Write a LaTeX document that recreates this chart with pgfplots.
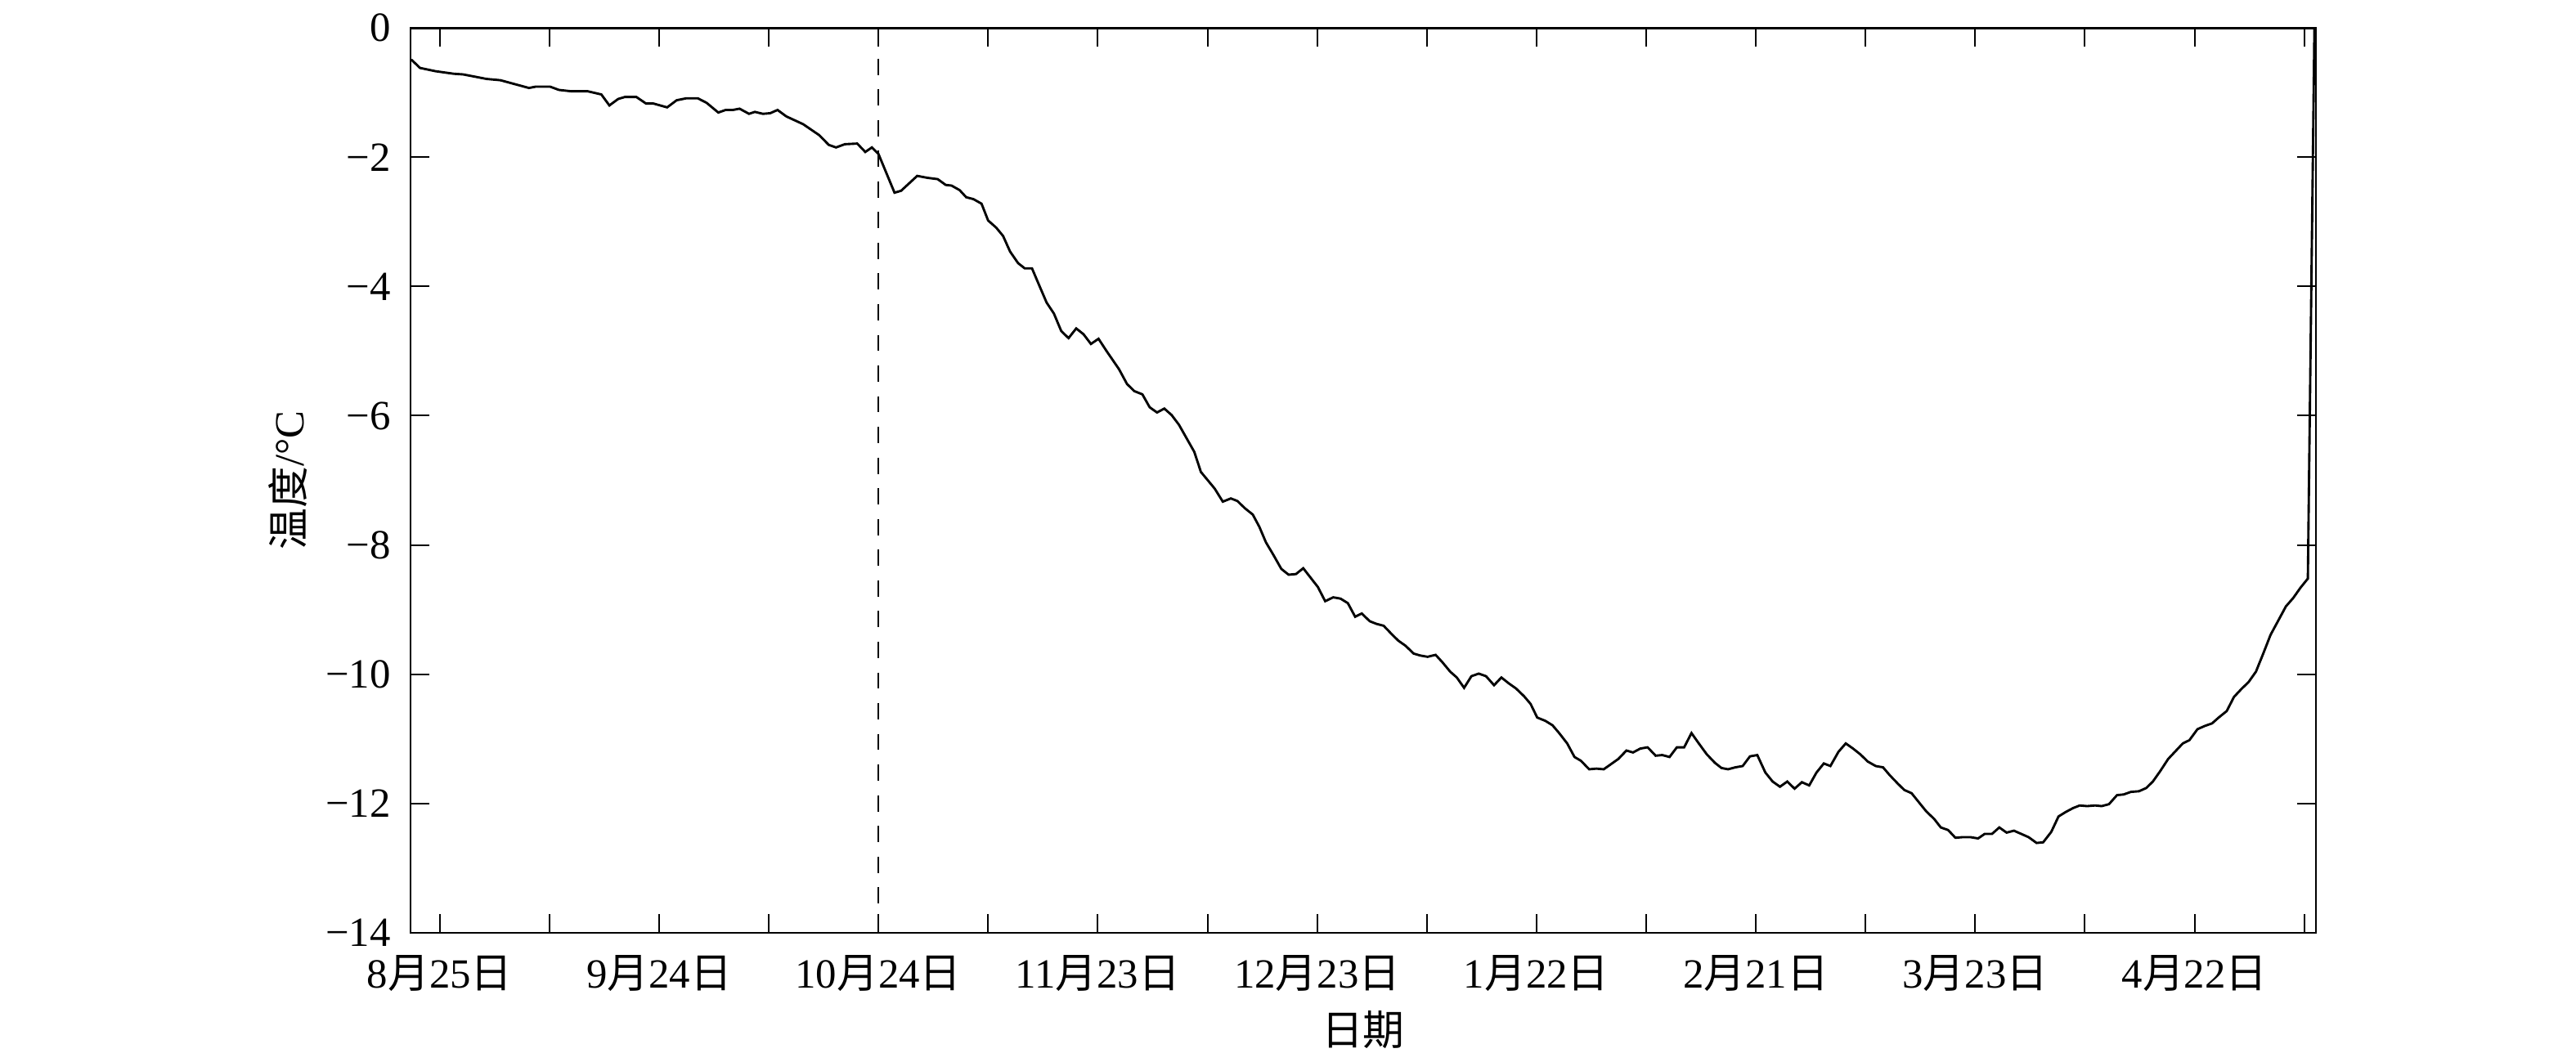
\documentclass[border=0pt]{standalone}
\usepackage{fontspec}
\setmainfont{Liberation Serif}
\newfontfamily\cjk{Noto Sans CJK SC}
\usepackage{pgfplots}
\pgfplotsset{compat=1.18}

\begin{document}
\fontsize{11.5}{13.5}\selectfont
\begin{tikzpicture}
  \begin{axis}[
      name=main,
      scale only axis,
      width=527.5pt, height=250.6pt,
      xmin=-4, xmax=256.6,
      ymin=-14, ymax=0,
      axis line style={line width=0.65pt},
      tick pos=both,
      tick align=inside,
      major tick length=5.2pt,
      minor tick length=5.2pt,
      every tick/.style={black, line width=0.45pt},
      xtick={0,30,...,240},
      minor xtick={15,45,...,255},
      xticklabels={
          8{\cjk 月}25{\cjk 日}, 9{\cjk 月}24{\cjk 日}, 10{\cjk 月}24{\cjk 日},
          11{\cjk 月}23{\cjk 日}, 12{\cjk 月}23{\cjk 日}, 1{\cjk 月}22{\cjk 日},
          2{\cjk 月}21{\cjk 日}, 3{\cjk 月}23{\cjk 日}, 4{\cjk 月}22{\cjk 日}},
      ytick={-14,-12,...,0},
      yticklabels={−14,−12,−10,−8,−6,−4,−2,0},
      tick label style={font=\fontsize{11.5}{13.5}\selectfont},
      xticklabel style={yshift=-2.2pt},
      yticklabel style={xshift=-1.5pt},
      xlabel={\cjk 日期},
      ylabel={{\cjk 温度}/°C},
      label style={font=\fontsize{11.5}{13.5}\selectfont, inner sep=0pt},
      xlabel style={at={(axis description cs:0.5,-0.1075)}, anchor=center},
      ylabel style={at={(axis description cs:-0.0644,0.5)}, anchor=center},
    ]

    % reference line at 10-24
    \addplot[black, line width=0.45pt, dash pattern=on 4.5pt off 4pt]
    coordinates {(60,0)(60,-14)};

    % temperature
    \addplot[black, line width=0.65pt, mark=none]
    coordinates {
        (-3.9,-0.49)(-2.7,-0.62)(-0.6,-0.67)(1.9,-0.71)(3.2,-0.72)(6.4,-0.79)
        (8.3,-0.81)(9.6,-0.85)(12.2,-0.93)(13.1,-0.91)(15.1,-0.91)(16.3,-0.96)
        (17.9,-0.98)(20.2,-0.98)(22.1,-1.03)(23.2,-1.20)(24.4,-1.10)(25.3,-1.07)
        (26.9,-1.07)(28.2,-1.17)(29.2,-1.17)(31.1,-1.23)(32.4,-1.12)(33.7,-1.09)
        (35.3,-1.09)(36.5,-1.16)(38.1,-1.31)(39.1,-1.27)(40.1,-1.27)(41.0,-1.25)
        (42.3,-1.33)(43.1,-1.30)(44.2,-1.33)(45.2,-1.32)(46.2,-1.27)(47.4,-1.37)
        (49.7,-1.49)(51.9,-1.66)(53.2,-1.81)(54.2,-1.85)(55.4,-1.80)(57.1,-1.79)
        (58.2,-1.92)(59.1,-1.85)(60.0,-1.95)(62.2,-2.55)(63.1,-2.52)(65.3,-2.29)
        (66.7,-2.32)(68.1,-2.34)(69.2,-2.43)(70.0,-2.44)(71.1,-2.51)(72.0,-2.62)
        (73.0,-2.65)(74.1,-2.72)(75.0,-2.98)(76.1,-3.09)(77.05,-3.22)(78.0,-3.46)
        (79.1,-3.64)(80.0,-3.72)(81.0,-3.72)(81.9,-3.96)(83.0,-4.25)(84.0,-4.42)
        (85.0,-4.69)(86.0,-4.80)(87.05,-4.65)(88.05,-4.74)(89.06,-4.89)(90.1,-4.81)
        (91.2,-5.00)(92.9,-5.28)(94.0,-5.51)(95.0,-5.62)(96.1,-5.67)(97.1,-5.87)
        (98.1,-5.95)(99.1,-5.89)(100.1,-5.99)(101.1,-6.14)(102.2,-6.36)(103.2,-6.56)
        (104.1,-6.87)(105.2,-7.02)(106.0,-7.13)(107.1,-7.33)(108.2,-7.28)(109.1,-7.32)
        (110.1,-7.43)(111.2,-7.53)(112.1,-7.72)(113.0,-7.96)(114.0,-8.15)(115.1,-8.37)
        (116.1,-8.46)(117.1,-8.45)(118.1,-8.36)(119.2,-8.52)(120.1,-8.65)(121.1,-8.87)
        (122.2,-8.81)(123.2,-8.83)(124.2,-8.90)(125.2,-9.11)(126.1,-9.06)(127.2,-9.18)
        (128.1,-9.22)(129.1,-9.25)(130.2,-9.38)(131.1,-9.48)(132.1,-9.56)(133.2,-9.68)
        (134.1,-9.71)(135.1,-9.73)(136.2,-9.70)(137.1,-9.81)(138.2,-9.96)(139.1,-10.05)
        (140.1,-10.21)(141.1,-10.03)(142.1,-9.99)(143.1,-10.03)(144.2,-10.17)(145.2,-10.05)
        (146.2,-10.14)(147.2,-10.22)(148.3,-10.34)(149.2,-10.46)(150.1,-10.67)(151.2,-10.72)
        (152.2,-10.79)(153.1,-10.91)(154.2,-11.07)(155.2,-11.28)(156.1,-11.34)(157.2,-11.47)
        (158.2,-11.46)(159.2,-11.47)(160.2,-11.39)(161.2,-11.31)(162.3,-11.18)(163.2,-11.21)
        (164.2,-11.15)(165.2,-11.13)(166.3,-11.26)(167.2,-11.25)(168.2,-11.28)(169.2,-11.13)
        (170.2,-11.13)(171.2,-10.91)(172.2,-11.07)(173.3,-11.24)(174.4,-11.37)(175.3,-11.45)
        (176.2,-11.47)(177.2,-11.44)(178.2,-11.42)(179.2,-11.27)(180.2,-11.25)(181.3,-11.52)
        (182.3,-11.66)(183.3,-11.74)(184.3,-11.66)(185.3,-11.77)(186.3,-11.67)(187.3,-11.72)
        (188.3,-11.52)(189.3,-11.38)(190.2,-11.42)(191.3,-11.20)(192.3,-11.07)(193.3,-11.15)
        (194.3,-11.24)(195.3,-11.35)(196.4,-11.42)(197.4,-11.44)(198.3,-11.56)(199.4,-11.69)
        (200.3,-11.79)(201.3,-11.84)(202.3,-11.98)(203.3,-12.12)(204.4,-12.24)(205.3,-12.37)
        (206.3,-12.41)(207.3,-12.53)(208.3,-12.52)(209.35,-12.52)(210.4,-12.54)(211.3,-12.47)
        (212.3,-12.47)(213.3,-12.37)(214.3,-12.45)(215.3,-12.42)(216.3,-12.47)(217.3,-12.52)
        (218.4,-12.61)(219.3,-12.60)(220.4,-12.44)(221.4,-12.20)(222.4,-12.13)(223.4,-12.07)
        (224.3,-12.03)(225.3,-12.04)(226.4,-12.03)(227.3,-12.04)(228.3,-12.01)(229.4,-11.87)
        (230.3,-11.86)(231.3,-11.82)(232.4,-11.81)(233.4,-11.76)(234.3,-11.66)(235.3,-11.50)
        (236.4,-11.31)(237.4,-11.19)(238.4,-11.07)(239.3,-11.02)(240.4,-10.85)(241.4,-10.80)
        (242.4,-10.76)(243.3,-10.67)(244.4,-10.57)(245.4,-10.35)(246.4,-10.23)(247.4,-10.12)
        (248.4,-9.96)(249.4,-9.68)(250.4,-9.39)(251.5,-9.16)(252.5,-8.95)(253.5,-8.82)
        (254.5,-8.66)(255.5,-8.52)(256.4,0)
      };
  \end{axis}
  % page size matching the reference, with its blank margins
  \path (main.south west) ++(-113.65pt,-35.77pt) rectangle ++(713.16pt,294.09pt);
\end{tikzpicture}
\end{document}
